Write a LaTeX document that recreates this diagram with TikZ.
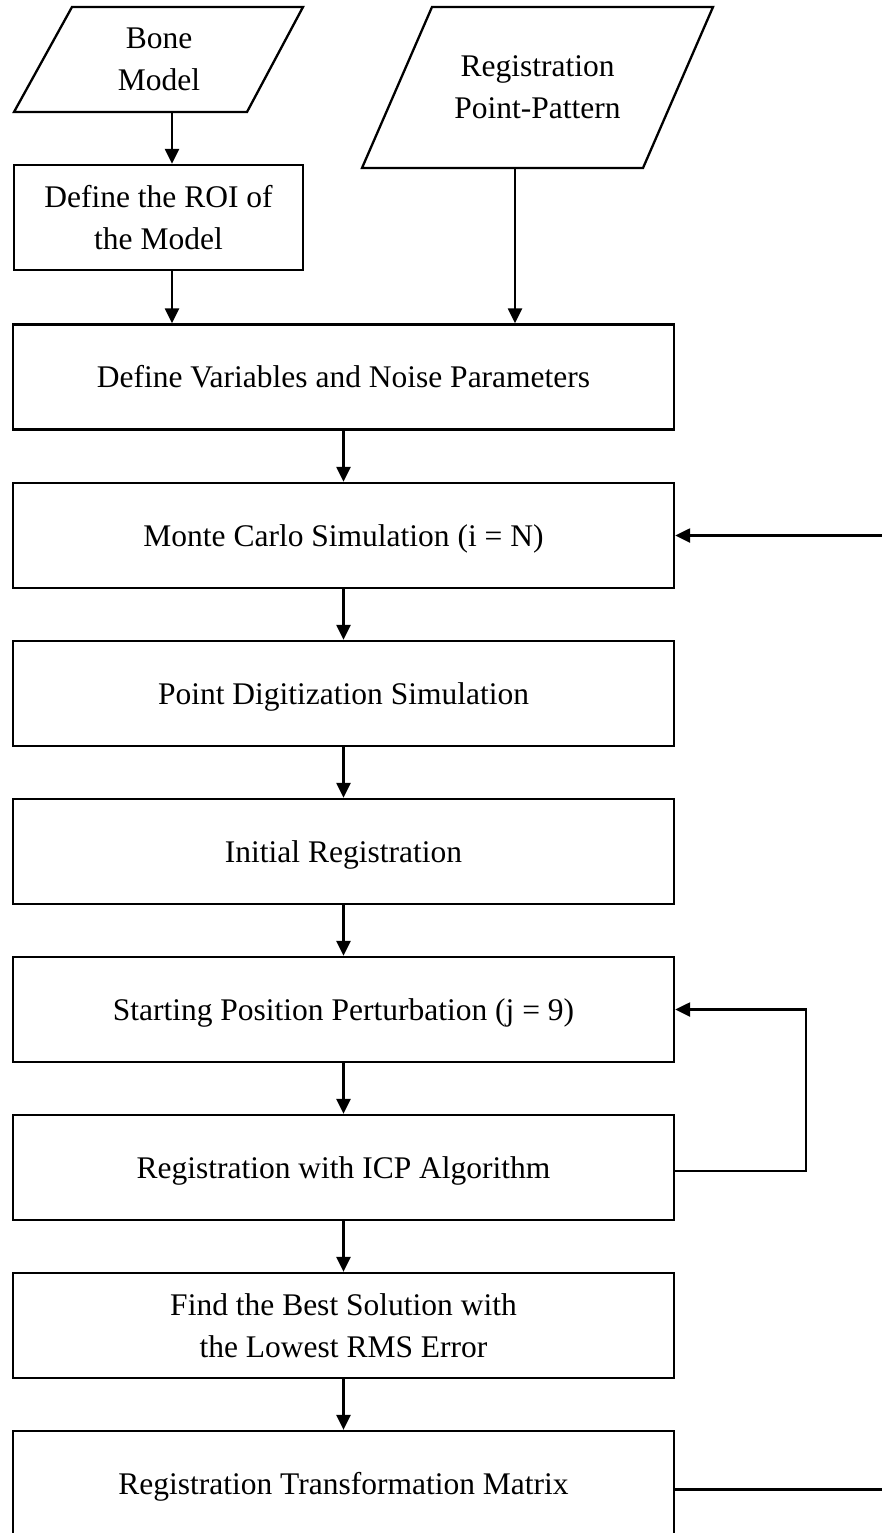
\documentclass[tikz,border=0pt]{standalone}
\usepackage{fontspec}
\setmainfont{Liberation Serif}
\usetikzlibrary{arrows.meta}
\newcommand\flowfont{\fontsize{31.5}{42}\selectfont}
\begin{document}
\begin{tikzpicture}[x=1pt,y=-1pt,
  flowline/.style={line width=2.3pt},
  arr/.style={flowline,-{Triangle[length=15pt,width=14pt]}},
  textonly/.style={inner sep=0pt,font=\flowfont,text height=21pt,text depth=0pt},
  twoline/.style={align=center,text height=63pt,text depth=0pt},
  stepbox/.style={textonly,draw,line width=2.3pt,rectangle,
                  minimum width=661pt,minimum height=105pt}]
\useasboundingbox (0,0) rectangle (882,1533);
\clip (0,0) rectangle (882,1533);

% input parallelograms
\draw[flowline] (14,112) -- (72,7) -- (303,7) -- (247,112) -- cycle;
\node[textonly,twoline] (bone) at (159,59.5) {Bone\\Model};
\draw[flowline] (362,168) -- (432,7) -- (713,7) -- (643,168) -- cycle;
\node[textonly,twoline] (regpp) at (537.5,87) {Registration\\Point-Pattern};

% process steps
\node[stepbox,twoline,minimum width=289pt] (roi) at (158.5,217.5) {Define the ROI of\\the Model};
\node[stepbox] (defvar) at (343.5,377) {Define Variables and Noise Parameters};
\node[stepbox] (mc) at (343.5,535.5) {Monte Carlo Simulation (i = N)};
\node[stepbox] (pds) at (343.5,693.5) {Point Digitization Simulation};
\node[stepbox] (ir) at (343.5,851.5) {Initial Registration};
\node[stepbox] (spp) at (343.5,1009.5) {Starting Position Perturbation (j = 9)};
\node[stepbox] (icp) at (343.5,1167.5) {Registration with ICP Algorithm};
\node[stepbox,twoline] (best) at (343.5,1325.5) {Find the Best Solution with\\the Lowest RMS Error};
\node[stepbox] (rtm) at (343.5,1483.5) {Registration Transformation Matrix};

% connector end points
\coordinate (boneout) at (172,112);
\coordinate (regout) at (515,168);
\coordinate (mcin) at (882,535.5);
\coordinate (loopx) at (806,0);
\coordinate (rtmout) at (882,1489.5);

% connectors
\draw[arr] (boneout) -- (boneout |- roi.north);
\draw[arr] (roi.south -| boneout) -- (boneout |- defvar.north);
\draw[arr] (regout) -- (regout |- defvar.north);
\draw[arr] (defvar.south) -- (mc.north);
\draw[arr] (mc.south) -- (pds.north);
\draw[arr] (pds.south) -- (ir.north);
\draw[arr] (ir.south) -- (spp.north);
\draw[arr] (spp.south) -- (icp.north);
\draw[arr] (icp.south) -- (best.north);
\draw[arr] (best.south) -- (rtm.north);
\draw[arr] (mcin) -- (mc.east);
\draw[arr] ([yshift=-3.5pt]icp.east) -| (loopx |- spp.east) -- (spp.east);
\draw[flowline] (rtm.east |- rtmout) -- (rtmout);
\end{tikzpicture}
\end{document}
